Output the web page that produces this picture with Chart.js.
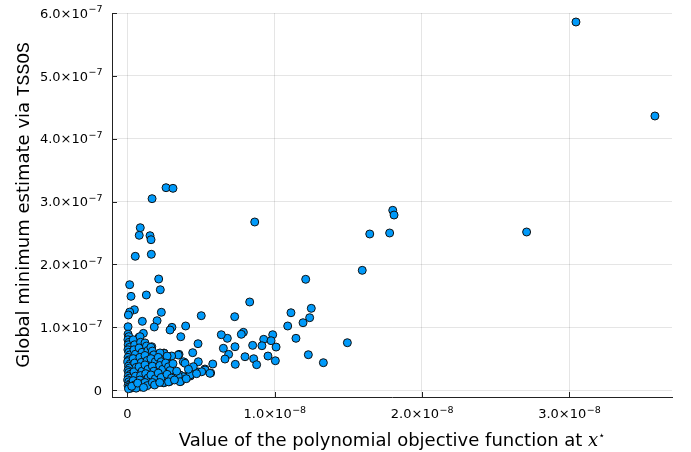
<!DOCTYPE html>
<html>
<head>
<meta charset="utf-8">
<script src="https://cdn.jsdelivr.net/npm/chart.js@4.4.0/dist/chart.umd.min.js"></script>
<style>
html, body { margin: 0; padding: 0; background: #fff; }
</style>
</head>
<body>
<canvas id="scatter" width="691" height="452"></canvas>
<script>
// values
// objective value at x*, in units of 1e-8
const objValue = [
    3.046, 3.582, 2.711, 1.802, 1.811, 1.781, 1.646, 1.595, 1.494, 1.331,
    1.229, 1.211, 1.249, 1.238, 1.193, 1.111, 1.089, 1.145, 0.865, 0.831,
    0.987, 0.926, 0.976, 1.010, 0.914, 0.851, 0.955, 1.005, 0.858, 0.878,
    0.799, 0.788, 0.774, 0.729, 0.731, 0.733, 0.688, 0.663, 0.652, 0.679,
    0.638, 0.580, 0.527, 0.566, 0.502, 0.480, 0.482, 0.460, 0.444, 0.485,
    0.428, 0.396, 0.394, 0.387, 0.363, 0.363, 0.358, 0.351, 0.303, 0.290,
    0.285, 0.249, 0.249, 0.263, 0.310, 0.168, 0.088, 0.081, 0.154, 0.161,
    0.163, 0.054, 0.213, 0.016, 0.224, 0.025, 0.129, 0.048, 0.016, 0.007,
    0.231, 0.102, 0.202, 0.005, 0.183, 0.109,
    // dense bit near the origin
    0.346, 0.380, 0.392, 0.448, 0.528, 0.561, 0.505, 0.426, 0.380, 0.346,
    0.312, 0.278, 0.234, 0.188, 0.154, 0.120, 0.188, 0.222, 0.267, 0.109,
    0.143, 0.188, 0.249, 0.285, 0.244, 0.200, 0.154, 0.120, 0.358, 0.301,
    0.249, 0.166, 0.113, 0.079,
    0.005, 0.010, 0.004, 0.012, 0.006, 0.015, 0.004, 0.010, 0.018, 0.005,
    0.012, 0.003, 0.020, 0.008, 0.015, 0.004, 0.010, 0.020, 0.006, 0.014,
    0.003, 0.010, 0.020, 0.005, 0.012, 0.025, 0.008,
    0.040, 0.050, 0.045, 0.055, 0.040, 0.050, 0.060, 0.045, 0.055, 0.040,
    0.050, 0.060,
    0.086, 0.090, 0.080, 0.100, 0.085, 0.095, 0.080, 0.100, 0.090, 0.085,
    0.100, 0.090,
    0.120, 0.130, 0.140, 0.120, 0.135, 0.120, 0.140, 0.125, 0.140, 0.120,
    0.135,
    0.160, 0.170, 0.180, 0.160, 0.190, 0.170, 0.180, 0.160, 0.190, 0.170,
    0.185,
    0.222, 0.210, 0.230, 0.220, 0.240, 0.210, 0.230, 0.220,
    0.270, 0.260, 0.280, 0.290, 0.270, 0.300, 0.280,
    0.320, 0.335, 0.310, 0.400, 0.415, 0.470, 0.060, 0.030, 0.070, 0.110
];

// TSSOS global minimum estimate, in units of 1e-7
const tssosMin = [
    5.857, 4.361, 2.515, 2.860, 2.785, 2.499, 2.483, 1.905, 0.753, 0.435,
    0.562, 1.762, 1.300, 1.151, 1.071, 1.230, 1.019, 0.823, 2.674, 1.401,
    0.880, 0.807, 0.785, 0.684, 0.705, 0.711, 0.541, 0.466, 0.498, 0.403,
    0.530, 0.918, 0.887, 1.167, 0.689, 0.409, 0.568, 0.493, 0.664, 0.823,
    0.880, 0.414, 0.334, 0.271, 1.183, 0.737, 0.450, 0.282, 0.594, 0.286,
    0.223, 1.019, 0.212, 0.441, 0.848, 0.138, 0.239, 0.568, 0.998, 0.955,
    0.143, 0.116, 0.589, 3.220, 3.210, 3.045, 2.583, 2.462, 2.456, 2.392,
    2.160, 2.128, 1.767, 1.676, 1.596, 1.491, 1.512, 1.278, 1.241, 1.194,
    1.237, 1.093, 1.103, 1.007, 1.003, 0.902,
    // dense bit near the origin
    0.557, 0.450, 0.425, 0.371, 0.318, 0.266, 0.291, 0.239, 0.212, 0.223,
    0.255, 0.318, 0.345, 0.371, 0.345, 0.425, 0.505, 0.450, 0.425, 0.291,
    0.239, 0.212, 0.223, 0.132, 0.116, 0.116, 0.132, 0.116, 0.132, 0.541,
    0.584, 0.689, 0.732, 0.839,
    0.89, 0.85, 0.80, 0.76, 0.72, 0.68, 0.64, 0.60, 0.56, 0.52,
    0.48, 0.45, 0.42, 0.38, 0.35, 0.31, 0.28, 0.25, 0.22, 0.19,
    0.16, 0.13, 0.10, 0.07, 0.05, 0.03, 0.02,
    0.80, 0.72, 0.64, 0.57, 0.50, 0.43, 0.36, 0.29, 0.22, 0.15,
    0.08, 0.04,
    0.85, 0.76, 0.67, 0.60, 0.52, 0.44, 0.37, 0.30, 0.23, 0.16,
    0.10, 0.05,
    0.75, 0.70, 0.63, 0.55, 0.47, 0.40, 0.33, 0.26, 0.19, 0.12,
    0.07,
    0.68, 0.62, 0.56, 0.50, 0.45, 0.38, 0.30, 0.24, 0.18, 0.12,
    0.08,
    0.59, 0.52, 0.45, 0.39, 0.33, 0.27, 0.20, 0.12,
    0.54, 0.43, 0.37, 0.31, 0.25, 0.19, 0.13,
    0.16, 0.30, 0.42, 0.18, 0.33, 0.26, 0.03, 0.06, 0.11, 0.04
];

const xTickVals = [0, 1e-8, 2e-8, 3e-8];
const xTickLabels = [["0", ""], ["1.0×10", "−8"], ["2.0×10", "−8"], ["3.0×10", "−8"]];
const yTickVals = [0, 1e-7, 2e-7, 3e-7, 4e-7, 5e-7, 6e-7];
const yTickLabels = [["0", ""], ["1.0×10", "−7"], ["2.0×10", "−7"], ["3.0×10", "−7"],
    ["4.0×10", "−7"], ["5.0×10", "−7"], ["6.0×10", "−7"]];

const points = objValue.map(function (v, i) {
    return { x: v * 1e-8, y: tssosMin[i] * 1e-7 };
});

const sans = '"DejaVu Sans", sans-serif';
const tickFont = '13px ' + sans;
const expFont = '9.5px ' + sans;

// ticks point into the plot, like Plots.jl does
const innerTicks = {
    id: 'innerTicks',
    afterDraw(chart) {
        const ctx = chart.ctx;
        const a = chart.chartArea;
        const xs = chart.scales.x, ys = chart.scales.y;
        ctx.save();
        ctx.strokeStyle = '#222';
        ctx.lineWidth = 1;
        ctx.beginPath();
        xTickVals.forEach(function (v) {
            const p = Math.round(xs.getPixelForValue(v)) + 0.5;
            ctx.moveTo(p, a.bottom);
            ctx.lineTo(p, a.bottom - 5);
        });
        yTickVals.forEach(function (v) {
            const p = Math.round(ys.getPixelForValue(v)) + 0.5;
            ctx.moveTo(a.left, p);
            ctx.lineTo(a.left + 5, p);
        });
        ctx.stroke();
        ctx.restore();
    }
};

// tick labels with a raised exponent
function labelWidth(ctx, lab) {
    ctx.font = tickFont;
    let w = ctx.measureText(lab[0]).width;
    ctx.font = expFont;
    w += ctx.measureText(lab[1]).width;
    return w;
}

function drawLabel(ctx, lab, x, y) {
    ctx.font = tickFont;
    ctx.fillText(lab[0], x, y);
    const w = ctx.measureText(lab[0]).width;
    ctx.font = expFont;
    ctx.fillText(lab[1], x + w + 0.5, y - 5.3);
}

const tickLabels = {
    id: 'tickLabels',
    afterDraw(chart) {
        const ctx = chart.ctx;
        const a = chart.chartArea;
        const xs = chart.scales.x, ys = chart.scales.y;
        ctx.save();
        ctx.fillStyle = '#000';
        ctx.textAlign = 'left';
        ctx.textBaseline = 'alphabetic';
        xTickVals.forEach(function (v, i) {
            const lab = xTickLabels[i];
            const w = labelWidth(ctx, lab);
            drawLabel(ctx, lab, xs.getPixelForValue(v) - w / 2, a.bottom + 21);
        });
        yTickVals.forEach(function (v, i) {
            const lab = yTickLabels[i];
            const w = labelWidth(ctx, lab);
            drawLabel(ctx, lab, a.left - 10 - w, ys.getPixelForValue(v) + 4.7);
        });
        ctx.restore();
    }
};

// axis titles mix fonts, so draw them by hand
function drawRuns(ctx, runs, cx, cy) {
    let total = 0;
    runs.forEach(function (r) {
        ctx.font = r.font;
        r.w = ctx.measureText(r.text).width;
        total += r.w;
    });
    let x = cx - total / 2;
    runs.forEach(function (r) {
        ctx.font = r.font;
        ctx.fillText(r.text, x, cy + (r.dy || 0));
        x += r.w;
    });
}

const axisTitles = {
    id: 'axisTitles',
    afterDraw(chart) {
        const ctx = chart.ctx;
        const a = chart.chartArea;
        ctx.save();
        ctx.fillStyle = '#000';
        ctx.textBaseline = 'alphabetic';
        ctx.textAlign = 'left';
        drawRuns(ctx, [
            { text: 'Value of the polynomial objective function at ', font: '18px ' + sans },
            { text: 'x', font: 'italic 18px "DejaVu Serif", serif' },
            { text: '⋆', font: '11px ' + sans, dy: -7 }
        ], (a.left + a.right) / 2, 446);

        ctx.translate(29, (a.top + a.bottom) / 2);
        ctx.rotate(-Math.PI / 2);
        drawRuns(ctx, [
            { text: 'Global minimum estimate via ', font: '18px ' + sans },
            { text: 'TSSOS', font: '18px "Liberation Mono", monospace' }
        ], 0, 0);
        ctx.restore();
    }
};

const ctx = document.getElementById('scatter');

const scatter = new Chart(ctx, {
    type: 'scatter',
    data: {
        datasets: [{
            data: points,
            backgroundColor: '#009AFA',
            borderColor: '#111',
            borderWidth: 1,
            pointRadius: 4
        }]
    },
    options: {
        responsive: false,
        animation: false,
        devicePixelRatio: 1,
        layout: { padding: { top: 13, right: 19, left: 0, bottom: 0 } },
        plugins: {
            legend: { display: false },
            tooltip: { enabled: false }
        },
        scales: {
            x: {
                type: 'linear',
                min: -0.104e-8,
                max: 3.698e-8,
                afterBuildTicks: function (scale) {
                    scale.ticks = xTickVals.map(function (v) { return { value: v }; });
                },
                afterFit: function (scale) { scale.height = 55; },
                ticks: { display: false },
                grid: { color: 'rgba(0,0,0,0.1)', drawTicks: false },
                border: { color: '#222', width: 1 }
            },
            y: {
                type: 'linear',
                min: -0.111e-7,
                max: 6.0e-7,
                afterBuildTicks: function (scale) {
                    scale.ticks = yTickVals.map(function (v) { return { value: v }; });
                },
                afterFit: function (scale) { scale.width = 112; },
                ticks: { display: false },
                grid: { color: 'rgba(0,0,0,0.1)', drawTicks: false },
                border: { color: '#222', width: 1 }
            }
        }
    },
    plugins: [innerTicks, tickLabels, axisTitles]
});
</script>
</body>
</html>
